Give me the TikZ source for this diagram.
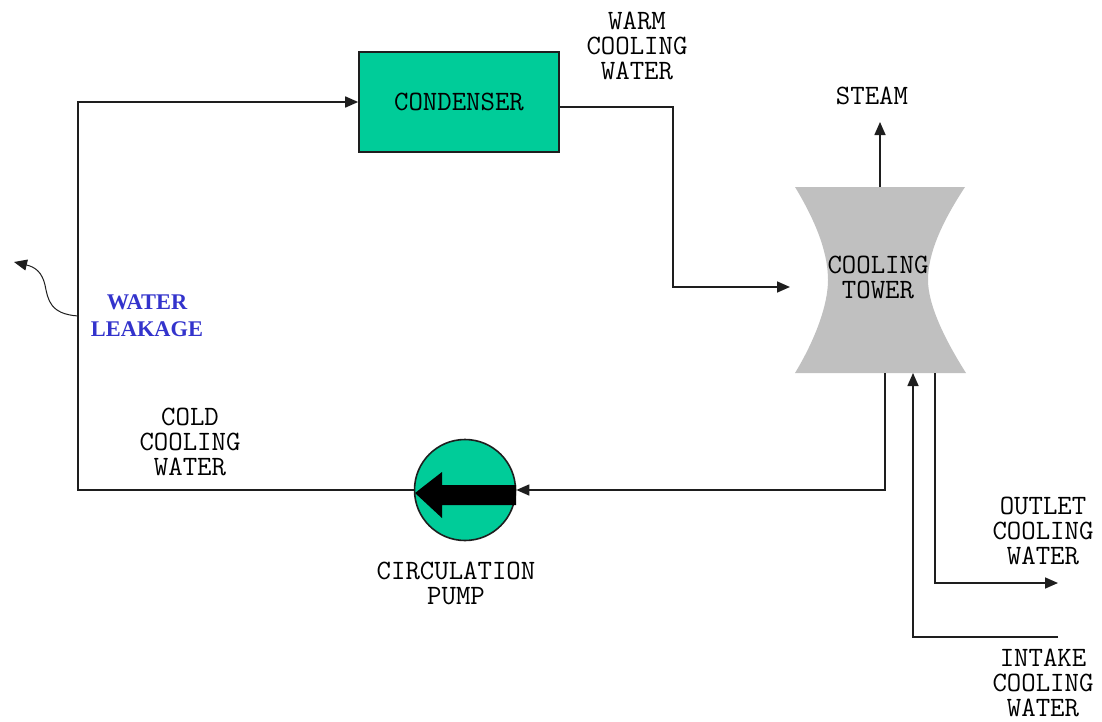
\documentclass[tikz,border=0pt]{standalone}
\usepackage{fontspec}
\newfontfamily\leakfont{Liberation Serif}
\usetikzlibrary{arrows.meta,positioning}
\definecolor{condGreen}{RGB}{0,204,153}
\definecolor{towerGray}{RGB}{192,192,192}
\definecolor{leakBlue}{RGB}{51,51,204}
\definecolor{lineGray}{RGB}{30,30,30}

\begin{document}
\begin{tikzpicture}[x=0.5pt,y=-0.5pt,
    pipe/.style={lineGray, line width=0.8pt},
    flow/.style={pipe, -{Triangle[length=6.5pt,width=5.5pt]}},
    lbl/.style={align=center, inner sep=0pt, font=\ttfamily\fontsize{14}{12.5}\selectfont}]
    \useasboundingbox (0,0) rectangle (1102,722);

    % units
    \node[draw=lineGray, line width=0.8pt, fill=condGreen, minimum width=100pt, minimum height=50pt,
          font=\ttfamily\fontsize{14}{12.5}\selectfont] (cond) at (459,102) {CONDENSER};
    \fill[towerGray] (795,187) -- (965,187)
        .. controls (940,225) and (928,255) .. (928,280)
        .. controls (928,305) and (945,340) .. (966,373)
        -- (795,373)
        .. controls (815,340) and (828,305) .. (828,280)
        .. controls (828,255) and (818,225) .. (795,187) -- cycle;
    \node[lbl] (tower) at (878,277) {COOLING\\TOWER};
    \node[circle, draw=lineGray, line width=0.8pt, fill=condGreen, minimum size=50.5pt, inner sep=0pt] (pump) at (465,490) {};
    \fill[black] (516,485) -- (442,485) -- (442,472) -- (415,493) -- (442,518) -- (442,505) -- (516,505) -- cycle;

    % end points
    \coordinate (loopBL) at (78,490);
    \coordinate (loopTL) at (78,102);
    \coordinate (warmA) at (673,107);
    \coordinate (warmB) at (673,287);
    \coordinate (towerIn) at (790,287);
    \coordinate (towerTop) at (880,187);
    \coordinate (steamTip) at (880,122);
    \coordinate (towerOut) at (885,373);
    \coordinate (retCorner) at (885,490);
    \coordinate (towerOutlet) at (935,373);
    \coordinate (outCorner) at (935,583);
    \coordinate (outTip) at (1058,583);
    \coordinate (inEnd) at (1058,637);
    \coordinate (inCorner) at (913,637);
    \coordinate (towerIntake) at (913,373);
    \coordinate (leakStart) at (78,316);
    \coordinate (leakTip) at (14,262);

    % connectors
    \draw[flow] (pump.west) -- (loopBL) -- (loopTL) -- (cond.west);
    \draw[flow] ([yshift=-2.5pt]cond.east) -- (warmA) -- (warmB) -- (towerIn);
    \draw[flow] (towerTop) -- (steamTip);
    \draw[flow] (towerOut) -- (retCorner) -- (pump.east);
    \draw[flow] (towerOutlet) -- (outCorner) -- (outTip);
    \draw[flow] (inEnd) -- (inCorner) -- (towerIntake);
    \draw[lineGray, line width=0.5pt, -{Triangle[length=6.5pt,width=5.5pt]}] (leakStart)
        .. controls (50,314) and (48,300) .. (45,285)
        .. controls (42,272) and (35,267) .. (leakTip);

    % labels
    \node[lbl] (warmLbl) at (637,46) {WARM\\COOLING\\WATER};
    \node[lbl] (steamLbl) at (872,96) {STEAM};
    \node[lbl, text=leakBlue, font=\leakfont\bfseries\fontsize{11.2}{13.5}\selectfont] (leakLbl) at (147,316) {WATER\\LEAKAGE};
    \node[lbl] (coldLbl) at (190,442) {COLD\\COOLING\\WATER};
    \node[lbl] (pumpLbl) at (456,583) {CIRCULATION\\PUMP};
    \node[lbl] (outLbl) at (1043,531) {OUTLET\\COOLING\\WATER};
    \node[lbl] (inLbl) at (1043,683) {INTAKE\\COOLING\\WATER};
\end{tikzpicture}
\end{document}
